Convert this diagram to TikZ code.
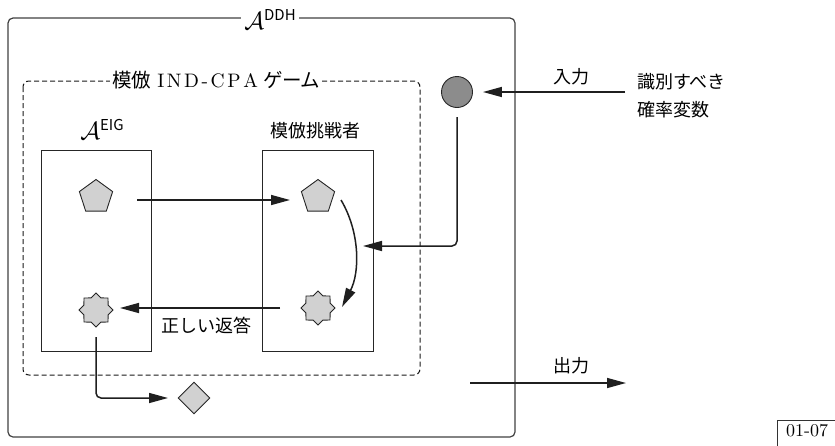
\documentclass[tikz,border=0pt]{standalone}
\usepackage{fontspec}
\newfontfamily\cjk{Noto Sans CJK JP}
\newfontfamily\cjkp{Noto Sans CJK JP}[RawFeature=+palt]
\newfontfamily\lmten{lmroman10-regular}[Extension=.otf]
\usetikzlibrary{shapes.geometric,arrows.meta}
\definecolor{lineg}{gray}{0.25}
\definecolor{shpfill}{gray}{0.82}
\definecolor{circfill}{gray}{0.55}
\newcommand{\lsp}{\kern2.6pt}
\begin{document}
\begin{tikzpicture}[x=1pt,y=-1pt,
  arr/.style={line width=1.5pt, draw=black!88, -{Triangle[length=19pt,width=10pt]}},
  jp/.style={font=\fontsize{18}{22}\selectfont\cjk, inner sep=1pt},
  ttl/.style={fill=white, inner sep=3pt},
  shp/.style={draw=black!85, fill=shpfill, line width=0.9pt, inner sep=0pt},
  pent/.style={shp, regular polygon, regular polygon sides=5, minimum size=35pt},
  starx/.style={shp, star, star points=8, star point ratio=1.3, minimum size=34pt},
  dia/.style={shp, diamond, minimum width=32pt, minimum height=32pt},
  boxx/.style={draw=black!85, line width=1pt},
]
\useasboundingbox (0,0) rectangle (835,445);
% outer box
\draw[draw=lineg, line width=1.2pt, rounded corners=5pt] (8,18) rectangle (515,437);
\node[ttl] (tDDH) at (270,19) {\fontsize{24}{28}\selectfont$\mathcal{A}$\raisebox{9pt}{\fontsize{15}{18}\selectfont\cjk DDH}};
% dashed game box
\draw[draw=black!90, line width=1pt, dash pattern=on 5pt off 3pt, rounded corners=6pt] (23,81) rectangle (420,375);
\node[ttl, inner sep=2pt] (tGame) at (216,80) {\fontsize{19.5}{22}\selectfont{\cjk 模倣}\kern6pt{\lmten I\lsp N\lsp D\lsp -\lsp C\lsp P\lsp A}\kern6pt{\cjkp ゲーム}};
% inner boxes
\draw[boxx] (41,150) rectangle (151,351);
\draw[boxx] (262,150) rectangle (373,351);
\node (tEIG) at (102,129) {\fontsize{24}{28}\selectfont$\mathcal{A}$\raisebox{9pt}{\fontsize{15}{18}\selectfont\cjk EIG}};
\node[jp] (tChal) at (315,131) {模倣挑戦者};
% shapes
\node[pent] (pl) at (96,197) {};
\node[pent] (pr) at (318,197) {};
\node[starx] (sl) at (96,310) {};
\node[starx] (sr) at (318,308) {};
\node[dia] (dm) at (194,398) {};
\node[circle, draw=black!85, fill=circfill, line width=0.9pt, minimum size=31pt, inner sep=0pt] (circ) at (457,92) {};
% coordinates
\coordinate (inS) at (625,92);
\coordinate (a1s) at (137,200);
\coordinate (a1e) at (290,200);
\coordinate (cs) at (341,200);
\coordinate (ce) at (342,307);
\coordinate (bs) at (280,308);
\coordinate (be) at (120,308);
\coordinate (ds) at (96,337);
\coordinate (dc) at (96,398);
\coordinate (de) at (168,398);
\coordinate (vs) at (457,117);
\coordinate (vc) at (457,246);
\coordinate (ve) at (363,246);
\coordinate (os) at (470,383);
\coordinate (oe) at (626,383);
% arrows
\draw[arr, shorten >=10pt] (inS) -- (circ);
\draw[arr] (a1s) -- (a1e);
\draw[arr] (cs) .. controls (360,232) and (360,272) .. (ce);
\draw[arr] (bs) -- (be);
\draw[arr, rounded corners=5pt] (ds) -- (dc) -- (de);
\draw[arr, rounded corners=5pt] (vs) -- (vc) -- (ve);
\draw[arr] (os) -- (oe);
% labels
\node[jp] (lIn) at (571,77) {入力};
\node[jp] (lOut) at (571,366) {出力};
\node[jp] (lAns) at (206,326) {正しい返答};
\node[jp, anchor=west] (lR1) at (636,82) {識別すべき};
\node[jp, anchor=west] (lR2) at (636,110) {確率変数};
% tag
\draw[draw=black!80, line width=0.8pt] (777,450) -- (777,420) -- (840,420);
\node (tag) at (807,431) {\fontsize{18}{21}\selectfont\lmten 01-07};
\end{tikzpicture}
\end{document}
